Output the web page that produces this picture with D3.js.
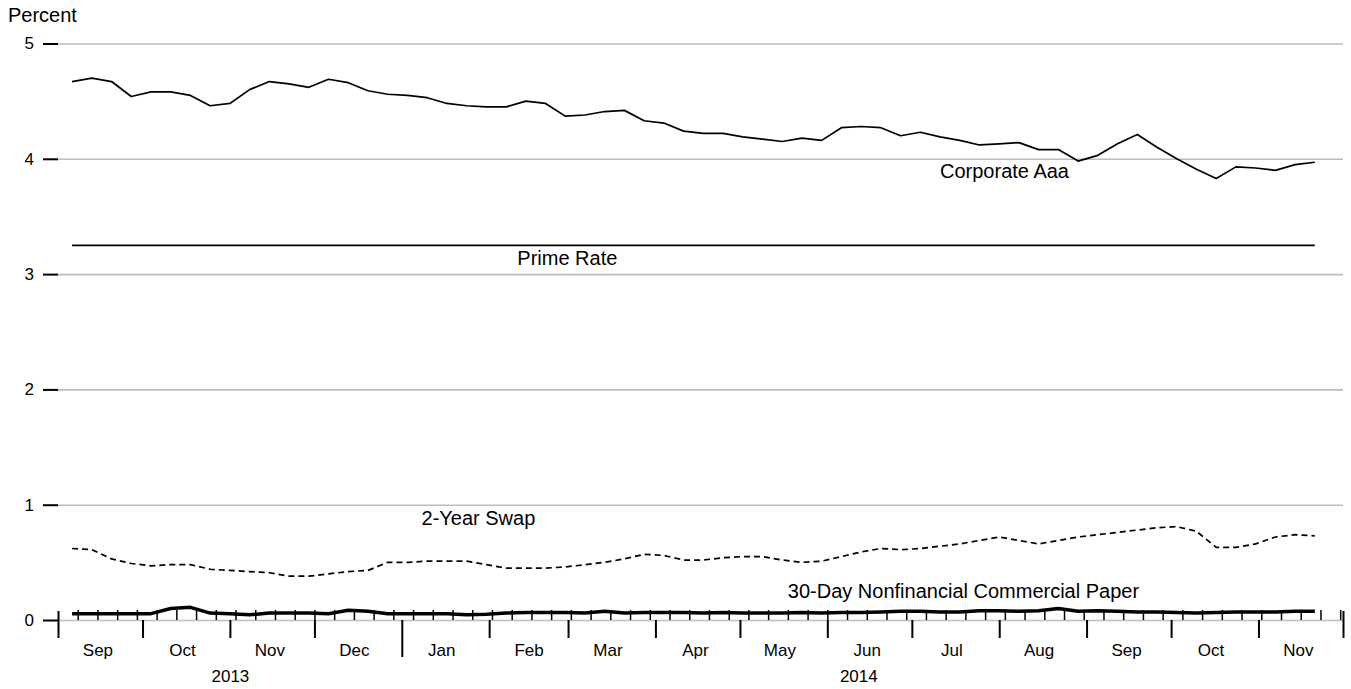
<!DOCTYPE html>
<html>
<head>
<meta charset="utf-8">
<script src="https://cdn.jsdelivr.net/npm/d3@7"></script>
<style>
  body { margin: 0; background: #fff; }
  svg { font-family: "Liberation Sans", Arial, sans-serif; }
</style>
</head>
<body>
<svg id="chart" width="1351" height="689"></svg>
<script>

// weekly observations (Fridays), Sep 2013 - Nov 2014
var weeks = d3.timeFriday.range(new Date(2013, 8, 6), new Date(2014, 10, 22));

var corporateAaa = [
  4.67, 4.70, 4.67, 4.54, 4.58, 4.58, 4.55, 4.46, 4.48, 4.60,
  4.67, 4.65, 4.62, 4.69, 4.66, 4.59, 4.56, 4.55, 4.53, 4.48,
  4.46, 4.45, 4.45, 4.50, 4.48, 4.37, 4.38, 4.41, 4.42, 4.33,
  4.31, 4.24, 4.22, 4.22, 4.19, 4.17, 4.15, 4.18, 4.16, 4.27,
  4.28, 4.27, 4.20, 4.23, 4.19, 4.16, 4.12, 4.13, 4.14, 4.08,
  4.08, 3.98, 4.03, 4.13, 4.21, 4.10, 4.00, 3.91, 3.83, 3.93,
  3.92, 3.90, 3.95, 3.97
];

var primeRate = [
  3.25, 3.25, 3.25, 3.25, 3.25, 3.25, 3.25, 3.25, 3.25, 3.25,
  3.25, 3.25, 3.25, 3.25, 3.25, 3.25, 3.25, 3.25, 3.25, 3.25,
  3.25, 3.25, 3.25, 3.25, 3.25, 3.25, 3.25, 3.25, 3.25, 3.25,
  3.25, 3.25, 3.25, 3.25, 3.25, 3.25, 3.25, 3.25, 3.25, 3.25,
  3.25, 3.25, 3.25, 3.25, 3.25, 3.25, 3.25, 3.25, 3.25, 3.25,
  3.25, 3.25, 3.25, 3.25, 3.25, 3.25, 3.25, 3.25, 3.25, 3.25,
  3.25, 3.25, 3.25, 3.25
];

var swap2y = [
  0.62, 0.61, 0.53, 0.49, 0.47, 0.48, 0.48, 0.44, 0.43, 0.42,
  0.41, 0.38, 0.38, 0.40, 0.42, 0.43, 0.50, 0.50, 0.51, 0.51,
  0.51, 0.48, 0.45, 0.45, 0.45, 0.46, 0.48, 0.50, 0.53, 0.57,
  0.56, 0.52, 0.52, 0.54, 0.55, 0.55, 0.52, 0.50, 0.51, 0.55,
  0.59, 0.62, 0.61, 0.62, 0.64, 0.66, 0.69, 0.72, 0.69, 0.66,
  0.69, 0.72, 0.74, 0.76, 0.78, 0.80, 0.81, 0.77, 0.63, 0.63,
  0.66, 0.72, 0.74, 0.73
];

var commercialPaper = [
  0.055, 0.055, 0.055, 0.055, 0.055, 0.10, 0.11, 0.06, 0.055, 0.045,
  0.06, 0.06, 0.06, 0.055, 0.085, 0.075, 0.055, 0.055, 0.055, 0.055,
  0.045, 0.05, 0.06, 0.065, 0.065, 0.065, 0.06, 0.075, 0.06, 0.065,
  0.065, 0.065, 0.06, 0.065, 0.06, 0.06, 0.06, 0.065, 0.06, 0.065,
  0.065, 0.07, 0.075, 0.075, 0.07, 0.07, 0.08, 0.08, 0.075, 0.08,
  0.10, 0.075, 0.08, 0.075, 0.07, 0.07, 0.065, 0.06, 0.065, 0.07,
  0.07, 0.07, 0.075, 0.075
];

var yTicks = [0, 1, 2, 3, 4, 5];

// series labels, anchored in data space: [date, value]
var seriesLabels = [
  { text: "Corporate Aaa", at: [new Date(2014, 6, 11), 3.83] },
  { text: "Prime Rate", at: [new Date(2014, 1, 11), 3.08] },
  { text: "2-Year Swap", at: [new Date(2014, 0, 8), 0.82] },
  { text: "30-Day Nonfinancial Commercial Paper", at: [new Date(2014, 4, 18), 0.19] }
];

var svg = d3.select("#chart");

var start = new Date(2013, 8, 1),
  end = new Date(2014, 11, 1);

var x = d3.scaleTime().domain([start, end]).range([58, 1343]),
  y = d3.scaleLinear().domain([0, 5]).range([620, 43.5]);

// gridlines
var grid = svg.append("g")
  .attr("transform", "translate(58,0)")
  .call(d3.axisRight(y).tickValues(yTicks).tickSize(1343 - 58).tickFormat(""));
grid.select(".domain").remove();
grid.selectAll("line").attr("stroke", "#bdbdbd").attr("stroke-width", 1.6);

// y axis
var yAxis = svg.append("g")
  .attr("transform", "translate(58,0)")
  .call(d3.axisLeft(y).tickValues(yTicks).tickSize(15).tickPadding(9).tickFormat(d3.format("d")));
yAxis.select(".domain").remove();
yAxis.selectAll("line").attr("stroke", "#000").attr("stroke-width", 2);
yAxis.selectAll("text").attr("font-size", 17).attr("fill", "#000");

svg.append("text")
  .attr("x", 8)
  .attr("y", 22)
  .attr("font-size", 20)
  .text("Percent");

// x axis: weekly ticks pointing up
var weekAxis = svg.append("g")
  .attr("transform", "translate(0,620)")
  .call(d3.axisBottom(x).tickValues(d3.timeSunday.range(new Date(2013, 8, 2), end)).tickSize(-10).tickFormat(""));
weekAxis.select(".domain").remove();
weekAxis.selectAll("line").attr("stroke", "#000").attr("stroke-width", 1.5);

// month boundaries
var monthAxis = svg.append("g")
  .attr("transform", "translate(0,620)")
  .call(d3.axisBottom(x).tickValues(d3.timeMonth.range(start, d3.timeDay.offset(end, 1)).filter(function(d) {
    return d.getMonth() !== 0;
  })).tickSize(18).tickFormat(""));
monthAxis.select(".domain").remove();
monthAxis.selectAll("line").attr("stroke", "#000").attr("stroke-width", 2);

// ends of the axis extend above the baseline
monthAxis.selectAll(".tick").filter(function(d) {
  return +d === +start || +d === +end;
}).select("line").attr("y1", -9);

// year boundary
var yearAxis = svg.append("g")
  .attr("transform", "translate(0,620)")
  .call(d3.axisBottom(x).tickValues([new Date(2014, 0, 1)]).tickSize(37).tickFormat(""));
yearAxis.select(".domain").remove();
yearAxis.selectAll("line").attr("stroke", "#000").attr("stroke-width", 2);

// month labels on the 15th of each month
var monthMids = d3.timeMonth.range(start, end).map(function(d) {
  return d3.timeDay.offset(d, 14);
});
var monthLabels = svg.append("g")
  .attr("transform", "translate(0,656)")
  .call(d3.axisBottom(x).tickValues(monthMids).tickSize(0).tickPadding(0).tickFormat(d3.timeFormat("%b")));
monthLabels.select(".domain").remove();
monthLabels.selectAll("text").attr("font-size", 17).attr("fill", "#000").attr("dy", 0);

// year labels
var yearMids = [
  new Date((+start + +new Date(2014, 0, 1)) / 2),
  new Date((+new Date(2014, 0, 1) + +weeks[weeks.length - 1]) / 2)
];
var yearLabels = svg.append("g")
  .attr("transform", "translate(0,682)")
  .call(d3.axisBottom(x).tickValues(yearMids).tickSize(0).tickPadding(0).tickFormat(d3.timeFormat("%Y")));
yearLabels.select(".domain").remove();
yearLabels.selectAll("text").attr("font-size", 17).attr("fill", "#000").attr("dy", 0);

// lines
function drawLine(values, width, dash) {
  var line = d3.line()
    .x(function(d, i) { return x(weeks[i]); })
    .y(function(d) { return y(d); });
  svg.append("path")
    .datum(values)
    .attr("fill", "none")
    .attr("stroke", "#000")
    .attr("stroke-width", width)
    .attr("stroke-dasharray", dash)
    .attr("stroke-linejoin", "round")
    .attr("d", line);
}

drawLine(corporateAaa, 1.7, null);
drawLine(primeRate, 1.7, null);
drawLine(swap2y, 1.7, "6,4");
drawLine(commercialPaper, 3.5, null);

svg.append("g").selectAll("text")
  .data(seriesLabels)
  .enter().append("text")
  .attr("x", function(d) { return x(d.at[0]); })
  .attr("y", function(d) { return y(d.at[1]); })
  .attr("font-size", 20)
  .text(function(d) { return d.text; });

</script>
</body>
</html>
